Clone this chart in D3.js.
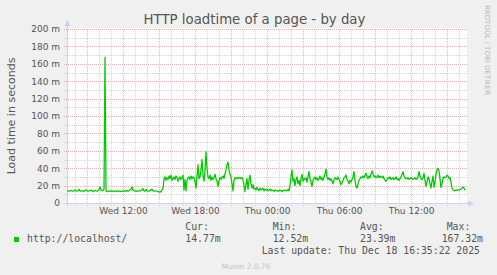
<!DOCTYPE html>
<html><head><meta charset="utf-8">
<script src="https://cdn.jsdelivr.net/npm/d3@7"></script>
<style>
html,body{margin:0;padding:0;background:#F0F0F0;}
svg{display:block;}
</style></head>
<body>
<script>
// ---- data ----
const title = "HTTP loadtime of a page - by day";
const yTitle = "Load time in seconds";
const seriesName = "http://localhost/";
const startTime = new Date(2025, 11, 17, 7, 20);   // left edge of graph
const endTime = new Date(2025, 11, 18, 16, 40);    // right edge of graph
const stepMinutes = 5;
// load time in milliseconds ("m"), one sample per 5 minutes
const loadtime = [
 14,14,13.5,14,14.5,14,13.5,14,15,14, 13.5,14,15.5,14,13.5,14,14,13.5,14.5,15, 14,13.5,14,14,15,14,13,14,14.5,14, 13.5,14,15,
 18.5,15,14,14.5,16,
 167.32,
 14,13,13.5,14,13.5,13.5,14,13.5,13,13.5, 14,13.5,13.5,14,13.5,13,13.5,14,13.5,13.5, 14,14.5,13.5,14,15,16,
 18.5,15,14,
 14,13.5,14,13.5,14,14,14.5,15,16.5,14, 13.5,15.5,14,13.5,14,14,15.5,16,14,13.5, 14,14,13.5,13,12.6,13,12.8,15,
 17,28,
 30,26,29,27,31,28,32,26,28,30, 27,31,29,25,28,30,27,29,32,15, 27,14,26,29,30,27,31,28,30,29, 25,17,30,44,28,
 30,38,50,32,25,36,59,40,30,28, 32,26,30,27,29,33,28,25,19,26, 29,27,30,31,28,34,38,44,47,38, 33,30,22,14,
 26,29,28,29,28,29,29,28,29,27, 20,13,22,28,16,26,32,22,
 17,21,16,17,15,18,16,14,17,15, 16,17,14,16,15,16,14,15,16,14, 15,14,13.5,15,14,14.5,13.5,14,15,14, 13,14.5,14,15,14,14.5,16,14,20,
 30,38,25,28,20,27,30,22,26,20, 28,33,25,28,27,29,24,30,36,28, 24,19,26,28,30,27,29,26,28,31, 27,29,26,30,33,39,30,27,29,26, 28,25,22,
 27,29,28,27,30,27,25,21,23,26, 29,30,32,27,25,22,26,24,27,30, 36,26,19,17,22,26,28,30,29,31, 29,32,34,30,28,31,29,33,37,34,
 30,31,29,30,32,29,31,30,29,31, 28,26,25,27,29,28,30,27,28,29, 27,28,30,27,28,26,28,
 30,33,36,31,29,28,28,29,27,28, 29,28,27,28,29,27,28,30,36,31, 28,27,29,34,26,19,24,30,28,22,
 17,25,31,18,24,33,38,40,37,28, 18,22,28,30,29,30,32,31,28,29, 24,17,15,14.5,14,15,14.5,15,15,15.5, 16,17,18.5,17,14.77
];
const yTicks = [0,20,40,60,80,100,120,140,160,180,200];
const yTickLabels = ["0","20 m","40 m","60 m","80 m","100 m","120 m","140 m","160 m","180 m","200 m"];
const statLabels = ["Cur:", "Min:", "Avg:", "Max:"];
const statValues = ["14.77m", "12.52m", "23.39m", "167.32m"];
const lastUpdate = "Last update: Thu Dec 18 16:35:22 2025";
const credit = "RRDTOOL / TOBI OETIKER";
const footer = "Munin 2.0.76";

// ---- drawing ----
(function () {
const W = 497, H = 275;
const pL = 67, pR = 467, pT = 29, pB = 203;
const lineColor = "#00CC00";
const textColor = "#555555";
const sans = "'DejaVu Sans', sans-serif";
const mono = "'DejaVu Sans Mono', monospace";

const svg = d3.select("body").append("svg").attr("width", W).attr("height", H);
svg.append("rect").attr("width", W).attr("height", H).attr("fill", "#F0F0F0");

const x = d3.scaleTime().domain([startTime, endTime]).range([pL, pR]);
const y = d3.scaleLinear().domain([0, 200]).range([pB, pT]);

svg.append("rect").attr("x", pL).attr("y", pT - 1).attr("width", pR - pL).attr("height", pB - pT + 1).attr("fill", "#ffffff");

const g = svg.append("g");
// minor grid
const minorY = d3.range(10, 201, 20);
g.selectAll(".hminor").data(minorY).join("line")
  .attr("x1", pL - 3).attr("x2", pR).attr("y1", d => Math.round(y(d)) + 0.5).attr("y2", d => Math.round(y(d)) + 0.5)
  .attr("stroke", "#d4d4d4").attr("stroke-dasharray", "1,1");
const hours = x.ticks(d3.timeHour.every(1));
g.selectAll(".vminor").data(hours).join("line")
  .attr("x1", d => Math.round(x(d)) + 0.5).attr("x2", d => Math.round(x(d)) + 0.5).attr("y1", pT).attr("y2", pB + 3)
  .attr("stroke", "#d4d4d4").attr("stroke-dasharray", "1,1");
// major grid
g.selectAll(".hmajor").data(yTicks.slice(1)).join("line")
  .attr("x1", pL - 3).attr("x2", pR).attr("y1", d => Math.round(y(d)) + 0.5).attr("y2", d => Math.round(y(d)) + 0.5)
  .attr("stroke", "#f2b2b2").attr("stroke-dasharray", "1,1");
const majors = x.ticks(d3.timeHour.every(3));
g.selectAll(".vmajor").data(majors).join("line")
  .attr("x1", d => Math.round(x(d)) + 0.5).attr("x2", d => Math.round(x(d)) + 0.5).attr("y1", pT).attr("y2", pB + 3)
  .attr("stroke", "#f2b2b2").attr("stroke-dasharray", "1,1");

// y tick labels
const yAxis = d3.axisLeft(y).tickValues(yTicks).tickFormat((d, i) => yTickLabels[i]).tickSize(0).tickPadding(7);
const ya = svg.append("g").attr("transform", `translate(${pL},0)`).call(yAxis);
ya.select(".domain").remove();
ya.selectAll("text").attr("font-family", sans).attr("font-size", "9px").attr("fill", textColor);

// x tick labels
const xAxis = d3.axisBottom(x).ticks(d3.timeHour.every(6)).tickFormat(d3.timeFormat("%a %H:%M")).tickSize(0).tickPadding(5);
const xa = svg.append("g").attr("transform", `translate(0,${pB})`).call(xAxis);
xa.select(".domain").remove();
xa.selectAll("text").attr("font-family", sans).attr("font-size", "9px").attr("fill", textColor);

// axes lines with arrows
const axisColor = "#c8d0f4";
svg.append("line").attr("x1", pL + 0.5).attr("x2", pL + 0.5).attr("y1", pB + 3).attr("y2", pT - 4).attr("stroke", axisColor);
svg.append("line").attr("x1", pL - 3).attr("x2", pR + 2).attr("y1", pB + 0.5).attr("y2", pB + 0.5).attr("stroke", axisColor);
svg.append("path").attr("d", `M${pL - 2.5},${pT - 3} L${pL + 3.5},${pT - 3} L${pL + 0.5},${pT - 9} Z`).attr("fill", axisColor);
svg.append("path").attr("d", `M${pR + 1},${pB - 2.5} L${pR + 1},${pB + 3.5} L${pR + 7},${pB + 0.5} Z`).attr("fill", axisColor);

// series line
const pts = loadtime.map((v, i) => ({t: new Date(+startTime + i * stepMinutes * 60000), v}));
svg.append("path").datum(pts)
  .attr("d", d3.line().x(d => x(d.t)).y(d => y(d.v)))
  .attr("fill", "none").attr("stroke", lineColor).attr("stroke-width", 1.3).attr("stroke-linejoin", "round");

// title
svg.append("text").attr("x", 254.5).attr("y", 24).attr("text-anchor", "middle")
  .attr("font-family", sans).attr("font-size", "13.3px").attr("fill", textColor).text(title);
// y title
svg.append("text").attr("transform", `translate(15,${(pT + pB) / 2}) rotate(-90)`).attr("text-anchor", "middle")
  .attr("font-family", sans).attr("font-size", "11px").attr("fill", textColor).text(yTitle);
// credit on right
svg.append("text").attr("transform", `translate(485,5) rotate(90)`).attr("text-anchor", "start")
  .attr("font-family", sans).attr("font-size", "7px").attr("fill", "#b8b8b8").text(credit);

// legend
svg.append("rect").attr("x", 14).attr("y", 237).attr("width", 5).attr("height", 5).attr("fill", lineColor);
svg.append("text").attr("x", 27).attr("y", 242).attr("font-family", mono).attr("font-size", "9.8px").attr("fill", textColor).text(seriesName);
const statX = [185.3, 272.7, 360, 446.7];
const statVX = [185.3, 272.7, 360, 441.7];
svg.selectAll(".sl").data(statLabels).join("text")
  .attr("x", (d, i) => statX[i]).attr("y", 230).attr("font-family", mono).attr("font-size", "9.8px").attr("fill", textColor).text(d => d);
svg.selectAll(".sv").data(statValues).join("text")
  .attr("x", (d, i) => statVX[i]).attr("y", 242).attr("font-family", mono).attr("font-size", "9.8px").attr("fill", textColor).text(d => d);
svg.append("text").attr("x", 261.7).attr("y", 254).attr("font-family", mono).attr("font-size", "9.8px").attr("fill", textColor).text(lastUpdate);
svg.append("text").attr("x", 246).attr("y", 269).attr("text-anchor", "middle").attr("font-family", sans).attr("font-size", "7.5px").attr("fill", "#c4c4c4").text(footer);
})();
</script>
</body></html>
